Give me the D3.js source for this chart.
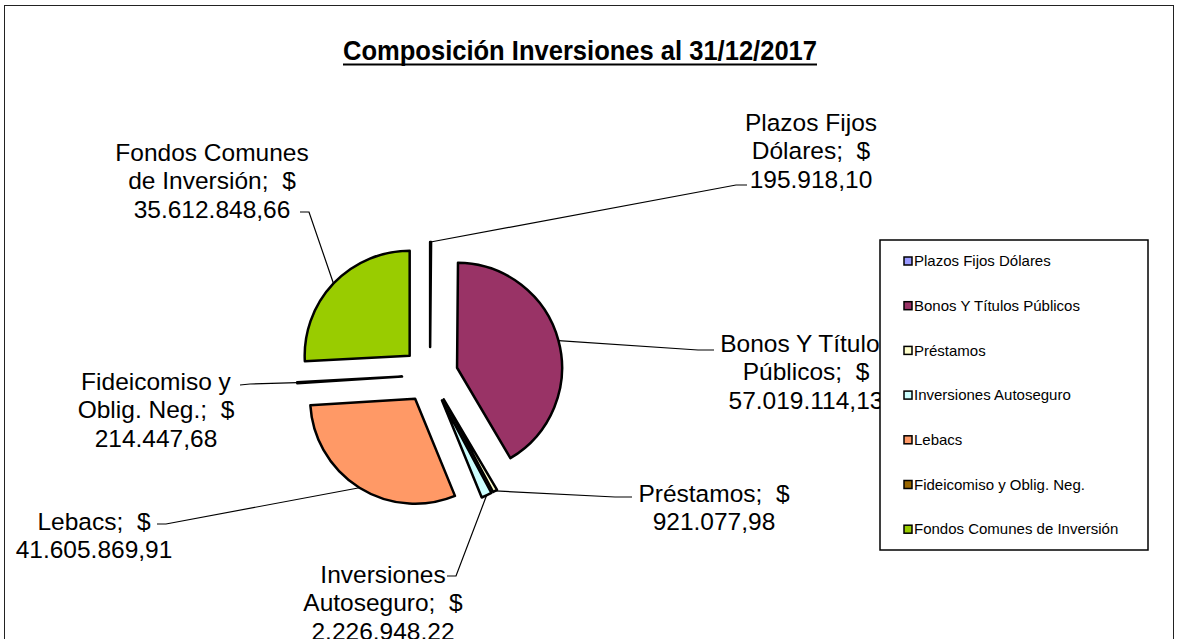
<!DOCTYPE html>
<html>
<head>
<meta charset="utf-8">
<script src="https://cdn.jsdelivr.net/npm/d3@7"></script>
<style>
  html, body { margin: 0; padding: 0; background: #fff; }
  svg { display: block; font-family: "Liberation Sans", Arial, sans-serif; }
</style>
</head>
<body>
<svg id="chart" width="1178" height="639"></svg>
<script>
// data
const categories = [
    "Plazos Fijos Dólares",
    "Bonos Y Títulos Públicos",
    "Préstamos",
    "Inversiones Autoseguro",
    "Lebacs",
    "Fideicomiso y Oblig. Neg.",
    "Fondos Comunes de Inversión"
];
const values = [195918.10, 57019114.13, 921077.98, 2226948.22, 41605869.91, 214447.68, 35612848.66];
const colors = ["#9999FF", "#993366", "#FFFFCC", "#CCFFFF", "#FF9966", "#996600", "#99CC00"];
// how each data label wraps (last part gets ";  $", value goes on its own line)
const labelParts = [
    ["Plazos Fijos", "Dólares"],
    ["Bonos Y Títulos", "Públicos"],
    ["Préstamos"],
    ["Inversiones", "Autoseguro"],
    ["Lebacs"],
    ["Fideicomiso y", "Oblig. Neg."],
    ["Fondos Comunes", "de Inversión"]
];
const title = "Composición Inversiones al 31/12/2017";

// layout of the labels: text center, first line y, leader elbow + end
const labelLayout = [
    {x: 811, y: 122, elbow: [736, 185], end: [747, 185]},
    {x: 806, y: 343, elbow: [698, 350], end: [714, 350]},
    {x: 714, y: 493, elbow: [615, 497], end: [632, 497]},
    {x: 383, y: 574, elbow: [456, 576], end: [447, 576]},
    {x: 94,  y: 521, elbow: [166, 524], end: [157, 524]},
    {x: 156, y: 381, elbow: [250, 384], end: [240, 385]},
    {x: 212, y: 152, elbow: [309, 212], end: [300, 212]}
];

const svg = d3.select("#chart");
const lineH = 28.6;

const esLocale = d3.formatLocale({decimal: ",", thousands: ".", grouping: [3], currency: ["$", ""]});
const fmt = esLocale.format(",.2f");

// outer chart border
svg.append("rect")
    .attr("x", 4.5).attr("y", 5.5)
    .attr("width", 1169).attr("height", 640)
    .attr("fill", "none")
    .attr("stroke", "#222")
    .attr("stroke-width", 1);

// title
svg.append("text")
    .attr("x", 580)
    .attr("y", 60)
    .attr("text-anchor", "middle")
    .attr("font-size", 28)
    .attr("font-weight", "bold")
    .attr("textLength", 474)
    .attr("lengthAdjust", "spacingAndGlyphs")
    .text(title);
svg.append("line")
    .attr("x1", 343).attr("x2", 817)
    .attr("y1", 64.5).attr("y2", 64.5)
    .attr("stroke", "#000")
    .attr("stroke-width", 2);

// pie
const cx = 430, cy = 375, radius = 105, explode = 28;
const pie = d3.pie().sort(null).value(d => d)(values);
const arc = d3.arc().innerRadius(0).outerRadius(radius);

const pieG = svg.append("g").attr("transform", "translate(" + cx + "," + cy + ")");

function midAngle(d) { return (d.startAngle + d.endAngle) / 2; }

pieG.selectAll("path.slice")
    .data(pie)
    .enter()
    .append("path")
    .attr("class", "slice")
    .attr("d", arc)
    .attr("transform", function(d) {
        const a = midAngle(d);
        return "translate(" + (explode * Math.sin(a)) + "," + (-explode * Math.cos(a)) + ")";
    })
    .attr("fill", (d, i) => colors[i])
    .attr("stroke", "#000")
    .attr("stroke-width", 2.5)
    .attr("stroke-linejoin", "round");

// leader lines
svg.selectAll("polyline.leader")
    .data(pie)
    .enter()
    .append("polyline")
    .attr("class", "leader")
    .attr("points", function(d, i) {
        const a = midAngle(d);
        const sx = cx + (radius + explode) * Math.sin(a);
        const sy = cy - (radius + explode) * Math.cos(a);
        const l = labelLayout[i];
        return [[sx, sy], l.elbow, l.end].map(p => p.join(",")).join(" ");
    })
    .attr("fill", "none")
    .attr("stroke", "#000")
    .attr("stroke-width", 1.2);

// data labels
const labels = svg.selectAll("text.label")
    .data(pie)
    .enter()
    .append("text")
    .attr("class", "label")
    .attr("text-anchor", "middle")
    .attr("font-size", 24.5)
    .attr("fill", "#000");

labels.each(function(d, i) {
    const parts = labelParts[i].slice();
    parts[parts.length - 1] = parts[parts.length - 1] + ";\u00a0\u00a0$";
    parts.push(fmt(d.data));
    const l = labelLayout[i];
    d3.select(this).selectAll("tspan")
        .data(parts)
        .enter()
        .append("tspan")
        .attr("x", l.x)
        .attr("y", (p, j) => l.y + j * lineH)
        .attr("dy", "0.35em")
        .text(p => p);
});

// legend (drawn on top, it hides part of the Bonos label)
const legend = svg.append("g").attr("transform", "translate(880,240)");
legend.append("rect")
    .attr("width", 268).attr("height", 310)
    .attr("fill", "#fff")
    .attr("stroke", "#000")
    .attr("stroke-width", 1.5);

const items = legend.selectAll("g.item")
    .data(categories)
    .enter()
    .append("g")
    .attr("class", "item")
    .attr("transform", (d, i) => "translate(24," + (21 + i * 44.7) + ")");

items.append("rect")
    .attr("x", 0).attr("y", -4)
    .attr("width", 8).attr("height", 8)
    .attr("fill", (d, i) => colors[i])
    .attr("stroke", "#000")
    .attr("stroke-width", 1.5);

items.append("text")
    .attr("x", 10)
    .attr("y", 0)
    .attr("dy", "0.35em")
    .attr("font-size", 15)
    .attr("fill", "#000")
    .text(d => d);
</script>
</body>
</html>
